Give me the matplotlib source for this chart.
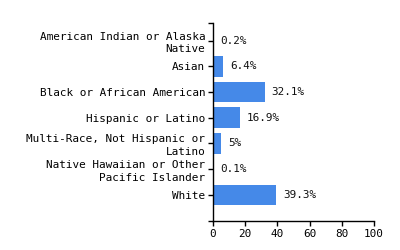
import matplotlib
matplotlib.use("Agg")
import matplotlib.pyplot as plt
import matplotlib.transforms as mtransforms

categories = [
    "American Indian or Alaska\nNative",
    "Asian",
    "Black or African American",
    "Hispanic or Latino",
    "Multi-Race, Not Hispanic or\nLatino",
    "Native Hawaiian or Other\nPacific Islander",
    "White",
]
values = [0.2, 6.4, 32.1, 16.9, 5, 0.1, 39.3]
value_labels = ["0.2%", "6.4%", "32.1%", "16.9%", "5%", "0.1%", "39.3%"]
xticks = [0, 20, 40, 60, 80, 100]

FONT = "DejaVu Sans Mono"
FS = 7.9
BAR = "#4589e8"

fig = plt.figure(figsize=(4, 2.5), dpi=100)
ax = fig.add_axes([0.5325, 0.116, 0.935 - 0.5325, 0.908 - 0.116])

ypos = list(range(len(categories)))
ax.barh(ypos, values, height=0.8, color=BAR)
for y, v, lab in zip(ypos, values, value_labels):
    ax.annotate(lab, (v, y), xytext=(5, 0), textcoords="offset points",
                va="center", ha="left", fontsize=FS, family=FONT, color="#111111")

ax.set_xlim(0, 100)
ax.set_ylim(7.02, -0.69)
ax.set_yticks(ypos)
ax.set_yticklabels(categories, fontsize=FS, family=FONT, linespacing=1.3)
ax.set_yticks([7.02, -0.69], minor=True)
ax.set_xticks(xticks)
ax.set_xticklabels([str(t) for t in xticks], fontsize=FS, family=FONT)

shift = mtransforms.ScaledTranslation(0, 1.5 / 72, fig.dpi_scale_trans)
for lbl, cat in zip(ax.get_yticklabels(), categories):
    if "\n" in cat:
        lbl.set_transform(lbl.get_transform() + shift)

for s in ["top", "right"]:
    ax.spines[s].set_visible(False)
for s in ["left", "bottom"]:
    ax.spines[s].set_linewidth(1.0)
    ax.spines[s].set_color("black")
ax.tick_params(axis="both", which="both", length=3.5, width=1.0, color="black", pad=2)
ax.tick_params(axis="y", which="minor", length=3.5)

fig.savefig("out.png", dpi=100)
